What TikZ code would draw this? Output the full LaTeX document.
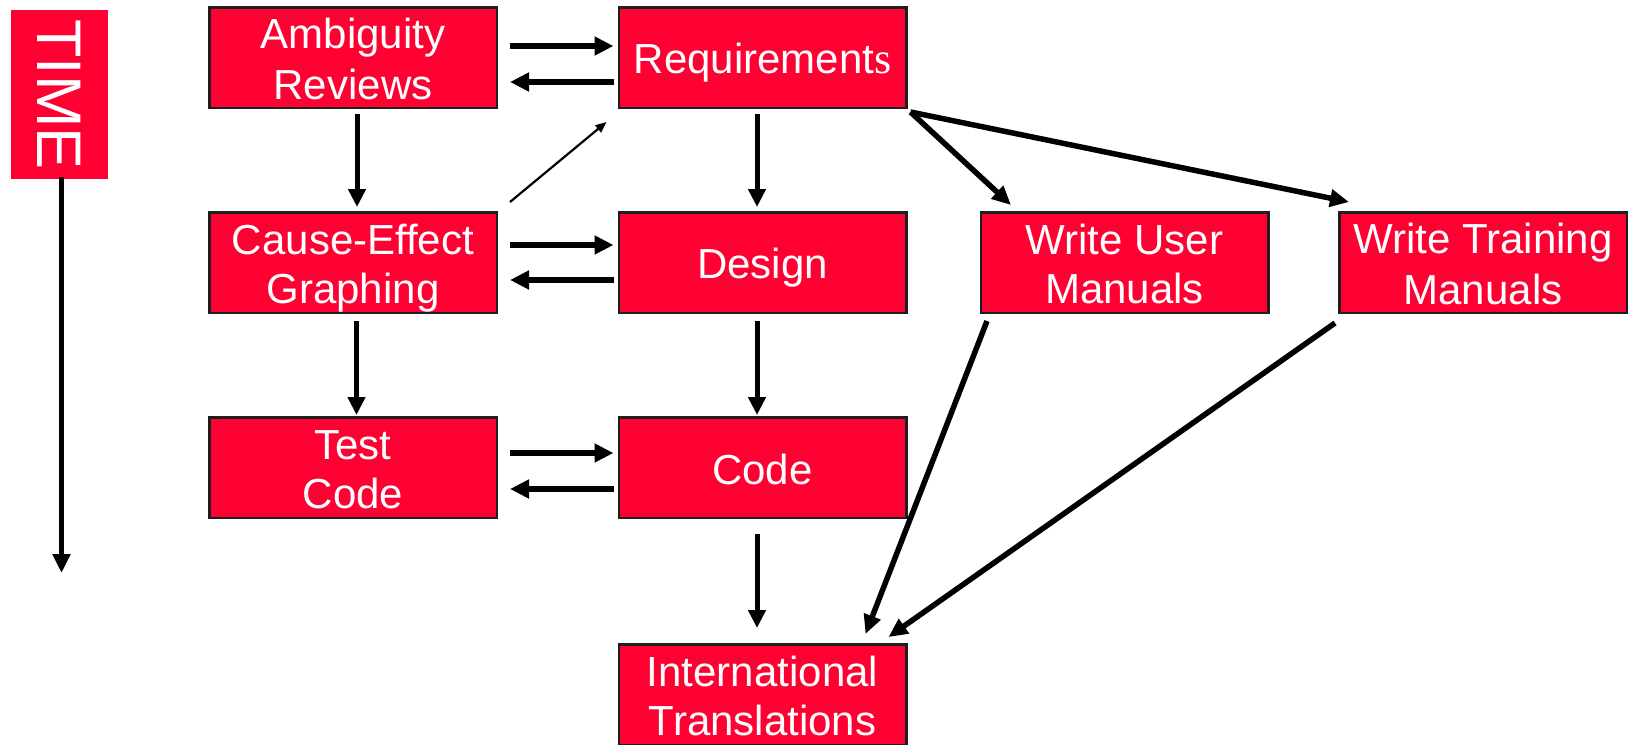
\documentclass[tikz,border=0pt]{standalone}
\usepackage{fontspec}
\setmainfont{Liberation Sans}
\newfontfamily\serifletter{Liberation Serif}
\usetikzlibrary{arrows.meta,calc}
\definecolor{boxred}{RGB}{255,0,51}
\definecolor{edge}{RGB}{30,30,30}
% uniform line box: 41pt above the baseline, 8pt below
\newcommand{\linestrut}{\rule[-8pt]{0pt}{49pt}}
\newcommand{\nextline}{\\\linestrut}
\tikzset{
  stagebox/.style={draw=edge, line width=2.5pt, fill=boxred, text=white,
    minimum width=287.5pt, minimum height=100.5pt, inner sep=0pt,
    align=center, font=\fontsize{42pt}{49pt}\selectfont,
    execute at begin node={\linestrut}},
  flow/.style={line width=6pt, -{Triangle[length=19pt,width=18pt]}},
  down/.style={line width=5pt, -{Triangle[length=18pt,width=17pt]}},
  slant/.style={line width=5.5pt, -{Triangle[length=19pt,width=17pt]}},
  thin/.style={line width=2.2pt, -{Triangle[length=11pt,width=9pt]}},
}
\begin{document}
\begin{tikzpicture}[x=1pt,y=-1pt]
\useasboundingbox (0,0) rectangle (1629,744);

% time axis
\node[fill=boxred, text=white, minimum width=169pt, minimum height=97pt, inner sep=0pt,
      rotate=-90, font=\fontsize{63pt}{70pt}\selectfont] (time) at (59.5,94.5) {TIME};
\coordinate (timeend) at (61.5,573);
\draw[line width=5.5pt, -{Triangle[length=19pt,width=17pt]}] ([yshift=2pt]time.east -| timeend) -- (timeend);

% stages
\node[stagebox] (amb)  at (353,57.5)    {\linestrut Ambiguity\nextline Reviews};
\node[stagebox] (req)  at (762.5,57.5)  {Requirement{\serifletter\fontsize{44pt}{49pt}\selectfont s}};
\node[stagebox] (ce)   at (353,262.5)   {\linestrut Cause-Effect\nextline Graphing};
\node[stagebox] (des)  at (762.5,262.5) {Design};
\node[stagebox] (wum)  at (1124.5,262.5){\linestrut Write User\nextline Manuals};
\node[stagebox] (wtm)  at (1483,262.5)  {\linestrut Write Training\nextline Manuals};
\node[stagebox] (tc)   at (353,467.5)   {\linestrut Test\nextline Code};
\node[stagebox] (code) at (762.5,467.5) {Code};
\node[stagebox] (it)   at (762.5,694.5) {\linestrut International\nextline Translations};

% horizontal exchanges
\draw[flow] ([xshift=12pt,yshift=11.5pt]amb.east) -- ([xshift=-4pt,yshift=11.5pt]req.west);
\draw[flow] ([xshift=-4pt,yshift=-24.5pt]req.west) -- ([xshift=12pt,yshift=-24.5pt]amb.east);
\draw[flow] ([xshift=12pt,yshift=17.5pt]ce.east) -- ([xshift=-4pt,yshift=17.5pt]des.west);
\draw[flow] ([xshift=-4pt,yshift=-17.5pt]des.west) -- ([xshift=12pt,yshift=-17.5pt]ce.east);
\draw[flow] ([xshift=12pt,yshift=14.5pt]tc.east) -- ([xshift=-4pt,yshift=14.5pt]code.west);
\draw[flow] ([xshift=-4pt,yshift=-21.5pt]code.west) -- ([xshift=12pt,yshift=-21.5pt]tc.east);

% vertical flow
\draw[down] ([xshift=4pt,yshift=-5pt]amb.south) -- ([xshift=4pt,yshift=4pt]ce.north);
\draw[down] ([xshift=3.5pt,yshift=-7pt]ce.south) -- ([xshift=3.5pt,yshift=1pt]tc.north);
\draw[down] ([xshift=-5.5pt,yshift=-5pt]req.south) -- ([xshift=-5.5pt,yshift=4pt]des.north);
\draw[down] ([xshift=-5.5pt,yshift=-7pt]des.south) -- ([xshift=-5.5pt,yshift=1pt]code.north);
\draw[down] ([xshift=-5.5pt,yshift=-15pt]code.south) -- ([xshift=-5.5pt,yshift=15pt]it.north);

% feedback from graphing to requirements
\draw[thin] ([xshift=12pt,yshift=9pt]ce.north east) -- ([xshift=-11pt,yshift=-13pt]req.south west);

% manuals
\draw[slant] ([xshift=3pt,yshift=-3pt]req.south east) -- ([xshift=31.5pt,yshift=6pt]wum.north west);
\draw[slant] ([xshift=3pt,yshift=-3pt]req.south east) -- ([xshift=11pt,yshift=9pt]wtm.north west);
\draw[slant] ([xshift=7.5pt,yshift=-7pt]wum.south west) -- ([xshift=-42pt,yshift=9pt]it.north east);
\draw[slant] ([xshift=-3pt,yshift=-9pt]wtm.south west) -- ([xshift=-19pt,yshift=6pt]it.north east);
\end{tikzpicture}
\end{document}
